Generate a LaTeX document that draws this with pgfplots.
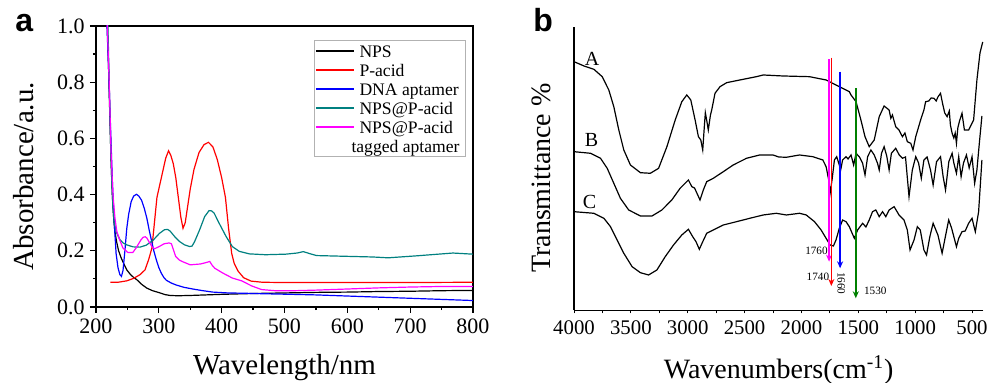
\documentclass[border=0pt]{standalone}
\usepackage{fontspec}
\setmainfont{Liberation Serif}
\newfontfamily\sansf{Liberation Sans}
\usepackage{pgfplots}
\pgfplotsset{compat=1.18}
\usetikzlibrary{arrows.meta}
\pgfplotsset{/pgf/number format/assume math mode=true}
\definecolor{tealc}{RGB}{0,128,128}
\definecolor{greenc}{RGB}{0,128,0}
\definecolor{magc}{RGB}{255,0,255}
\definecolor{redc}{RGB}{255,0,0}
\definecolor{bluec}{RGB}{0,0,255}
\newcommand\ls{\rule[-2.5pt]{0pt}{10.5pt}}
\newcommand\lsl{\rule[-1.8pt]{0pt}{9.8pt}}
\begin{document}
\begin{tikzpicture}
\useasboundingbox (0,0) rectangle (495.5pt,191.5pt);
\node[anchor=base west,inner sep=0pt] at (7.5pt,175.5pt) {\fontsize{16}{16}\selectfont\sansf\bfseries a};
\node[anchor=base west,inner sep=0pt] at (266.5pt,175.5pt) {\fontsize{16}{16}\selectfont\sansf\bfseries b};
% ---------------- panel a
\begin{axis}[
  at={(48pt,38pt)}, anchor=south west,
  scale only axis, width=188.5pt, height=140.5pt,
  xmin=200, xmax=800, ymin=0, ymax=1.0,
  xtick={200,300,...,800}, ytick={0,0.2,...,1.0},
  minor tick num=1,
  xtick pos=left, ytick pos=left, tick align=outside,
  major tick length=3pt, minor tick length=1.6pt,
  axis line style={line width=0.7pt},
  every tick/.style={black,line width=0.6pt},
  ticklabel style={font=\fontsize{11}{12}\selectfont, inner sep=2.5pt},
  yticklabel style={/pgf/number format/fixed,/pgf/number format/fixed zerofill,/pgf/number format/precision=1},
  xlabel={Wavelength/nm}, ylabel={Absorbance/a.u.},
  xlabel style={at={(axis description cs:0.5,-0.242)}, anchor=base, inner sep=0pt, font=\fontsize{14.5}{16}\selectfont},
  ylabel style={at={(axis description cs:-0.1655,0.465)}, anchor=base, inner sep=0pt, font=\fontsize{14.5}{16}\selectfont},
  legend cell align=left,
  legend image code/.code={\draw[#1,line width=0.6pt] (0pt,0pt) -- (19pt,0pt);},
  legend style={at={(0.578,0.950)}, anchor=north west, draw=gray!60, line width=0.4pt, fill=white,
    inner xsep=0.5pt, inner ysep=0.5pt, row sep=0pt,
    font=\fontsize{8.8}{10.5}\selectfont,
    nodes={inner xsep=2.5pt, inner ysep=0pt}},
  every axis plot/.append style={line width=0.6pt},
]
\addplot[black] coordinates {
(216,1.10)(218,1.0)(220,0.85)(222,0.68)(224,0.52)(226,0.40)(228,0.32)(230,0.27)(233,0.23)(236,0.20)
(240,0.175)(245,0.15)(249,0.132)(255,0.115)(260,0.105)(265,0.097)(273,0.08)(281,0.067)(290,0.058)
(302,0.05)(310,0.044)(318,0.041)(330,0.040)(350,0.041)(400,0.045)(450,0.048)(500,0.050)(550,0.052)
(600,0.053)(650,0.055)(700,0.056)(750,0.058)(800,0.059)};
\addlegendentry{\ls NPS}
\addplot[redc] coordinates {
(223,0.088)(235,0.088)(249,0.093)(260,0.102)(270,0.115)(278,0.132)(284,0.17)(289,0.21)(293,0.30)
(297,0.39)(301,0.43)(306,0.48)(311,0.53)(315.5,0.556)(319,0.54)(323,0.51)(327,0.46)(331,0.39)
(335,0.32)(338.5,0.28)(342,0.30)(346,0.36)(350,0.42)(356,0.49)(364,0.55)(372,0.578)(379,0.586)
(386,0.57)(393,0.525)(400,0.46)(406,0.39)(411,0.28)(416,0.19)(420,0.155)(426,0.128)(435,0.104)
(447,0.092)(465,0.088)(500,0.087)(600,0.087)(700,0.087)(800,0.088)};
\addlegendentry{\ls P-acid}
\addplot[bluec] coordinates {
(215,1.10)(217.5,1.00)(220,0.85)(223,0.65)(226,0.45)(229,0.30)(232,0.19)(235,0.14)(238,0.115)
(240.5,0.109)(243,0.13)(246,0.2)(249,0.28)(252,0.33)(256,0.375)(260,0.395)(264.5,0.401)(268,0.395)
(272.5,0.38)(277,0.35)(281,0.315)(285,0.27)(288.5,0.235)(292,0.2)(296,0.168)(300,0.14)(304,0.12)
(308,0.105)(312,0.095)(320,0.085)(328,0.078)(340,0.07)(354,0.064)(370,0.058)(386,0.053)(410,0.05)
(433,0.049)(470,0.047)(512,0.045)(550,0.043)(600,0.039)(650,0.035)(700,0.031)(750,0.027)(800,0.023)};
\addlegendentry{\ls DNA aptamer}
\addplot[tealc] coordinates {
(216,1.10)(219,1.0)(221,0.80)(223,0.60)(225,0.45)(227,0.35)(229,0.30)(233,0.263)(238,0.24)(243,0.228)
(249,0.221)(259,0.214)(270,0.213)(280,0.22)(291,0.238)(301,0.262)(309,0.275)(314,0.276)(318,0.27)
(325,0.251)(333,0.233)(341,0.221)(349,0.215)(353,0.217)(357,0.233)(365,0.275)(373,0.322)(380,0.343)
(384,0.342)(388,0.334)(396,0.298)(407,0.251)(417,0.215)(428,0.198)(444,0.189)(470,0.186)(502,0.188)
(520,0.192)(530,0.197)(540,0.19)(551,0.183)(604,0.18)(640,0.178)(665,0.175)(710,0.182)(768,0.192)(800,0.188)};
\addlegendentry{\ls NPS@P-acid}
\addplot[magc] coordinates {
(215,1.10)(218,1.0)(221,0.80)(224,0.55)(227,0.40)(230,0.32)(233,0.27)(237.5,0.24)(242.8,0.21)
(250.7,0.194)(258.6,0.194)(263.8,0.21)(271.6,0.239)(275,0.248)(278.4,0.25)(281,0.245)(285,0.23)
(289,0.215)(293,0.207)(300.5,0.215)(308.4,0.225)(316.4,0.228)(320,0.225)(323,0.205)(326.8,0.18)
(332,0.168)(337,0.162)(350,0.15)(366,0.153)(375,0.158)(381,0.162)(385,0.148)(389,0.138)(401.6,0.121)
(417,0.103)(432,0.093)(447.7,0.075)(463.5,0.062)(484.7,0.058)(516,0.058)(550,0.06)(600,0.064)
(650,0.068)(700,0.071)(750,0.073)(800,0.073)};
\addlegendentry{\ls NPS@P-acid}
\addlegendimage{empty legend}
\addlegendentry{\hspace*{-4pt}\lsl tagged aptamer}
\end{axis}
% ---------------- panel b
\begin{axis}[
  at={(287pt,36.25pt)}, anchor=south west,
  scale only axis, width=204.7pt, height=141.75pt,
  x dir=reverse, xmin=400, xmax=4000, ymin=72.5, ymax=356,
  xtick={500,1000,...,4000}, ytick=\empty, minor x tick num=1,
  axis x line*=bottom, axis y line*=left,
  tick align=outside, major tick length=1.5pt, minor tick length=1.5pt,
  axis line style={line width=0.6pt},
  every tick/.style={black,line width=0.5pt},
  xticklabel style={font=\fontsize{10.4}{12}\selectfont, /pgf/number format/1000 sep={}},
  xlabel={Wavenumbers(cm\textsuperscript{-1})}, ylabel={Transmittance \%},
  xlabel style={at={(axis description cs:0.5,-0.241)}, anchor=base, inner sep=0pt, font=\fontsize{14}{16}\selectfont},
  ylabel style={at={(axis description cs:-0.057,0.467)}, anchor=base, inner sep=0pt, font=\fontsize{14}{16}\selectfont},
  every axis plot/.append style={line width=0.6pt},
]
\addplot[black] coordinates {
(4000,321.3)(3912,317)(3825,313.7)(3752,306.3)(3694,293)(3650,276.3)(3606,253)(3562,233)(3504,218)
(3416,210.3)(3329,209.7)(3256,214.7)(3183,236.3)(3110,263)(3052,281.3)(3008,288)(2973,283)(2935,263)
(2906,246.3)(2885,243)(2868,233)(2854,256.3)(2845,270.3)(2832,262)(2819,253)(2800,268)(2789,273)
(2760,289.7)(2716,296.3)(2658,300.3)(2542,303)(2396,306.3)(2337,308)(2162,307)(1929,306.3)(1783,303)
(1667,296.3)(1579,291.3)(1564,288)(1520,281.3)(1477,263)(1441,246.3)(1404,236.3)(1360,243)(1316,266.3)
(1273,277)(1240,274)(1229,273)(1214,264.7)(1200,268)(1171,256.3)(1142,253)(1125,249)(1112,246.3)
(1090,250)(1069,241.3)(1039,239.7)(1019,233)(995,246.3)(952,263)(923,273)(908,281.3)(880,282)(860,285)
(835,284.7)(815,282)(800,286)(777,289.7)(760,280)(740,270)(719,266.3)(700,272)(690,258)(675,249.7)
(660,245)(648,250)(637,239.7)(625,255)(610,262)(588,269.7)(567,253)(530,253)(486,263)(457,303)
(430,330)(406,341)};
\addplot[black] coordinates {
(4000,231.3)(3854,229.7)(3767,224.7)(3708,214.7)(3650,199.7)(3592,184.7)(3519,173)(3416,167)(3314,167)
(3227,173)(3140,183)(3067,194.7)(2994,203)(2964,196.3)(2940,195)(2892,183)(2863,193)(2833,201.3)
(2775,204.7)(2687,211.3)(2600,218)(2483,224.7)(2367,228)(2250,228)(2200,226)(2133,225.7)(2017,228)
(1900,226.3)(1812,223)(1783,216.3)(1760,203)(1748,189.7)(1731,203)(1710,223)(1690,226.3)(1667,218)
(1655,213)(1638,223)(1608,226.3)(1590,224)(1564,228)(1541,218)(1520,229.7)(1490,226)(1462,219.7)
(1441,208)(1418,226.3)(1389,233)(1360,228)(1331,219.7)(1316,213)(1296,229.7)(1273,236.3)(1250,227)
(1229,213)(1209,229.7)(1171,234.7)(1140,228)(1112,224.7)(1085,226)(1054,186.3)(1025,213)(995,226.3)
(970,220)(946,204.7)(923,223)(895,226)(865,213)(842,198)(812,221.3)(777,226.3)(754,206.3)(733,193)
(704,221.3)(675,229.7)(660,220)(637,209.7)(617,226.3)(596,206.3)(575,220)(549,228)(525,215)(500,226.3)
(477,199.7)(457,213)(433,243)(413,267)};
\addplot[black] coordinates {
(4000,171.3)(3825,169.7)(3737,164.7)(3679,156.3)(3621,143)(3562,129.7)(3489,116.3)(3416,110.3)
(3344,108)(3271,113)(3198,126.3)(3125,138)(3052,148)(2994,153.7)(2956,146.3)(2927,141.3)(2898,133.7)
(2868,141.3)(2833,149.7)(2775,153)(2687,158)(2571,161.3)(2454,164.7)(2337,168)(2221,169.7)(2133,168)
(2017,169.7)(1958,168)(1885,161.3)(1827,153)(1783,144.7)(1748,138)(1719,137)(1696,143)(1667,154.7)
(1638,163)(1608,161.3)(1579,156.3)(1535,144.7)(1506,153)(1462,159.7)(1433,156)(1404,163)(1375,171.3)
(1346,173)(1316,166.3)(1287,171.3)(1258,166.3)(1229,173)(1185,176.3)(1142,168)(1098,163)(1069,153)
(1045,133)(1010,143)(981,156.3)(955,153)(923,133)(900,128)(871,146.3)(842,159.7)(800,148)(763,129.7)
(735,146)(705,163)(680,155)(637,136.3)(617,144.7)(588,151.3)(560,152)(530,159.7)(500,164.7)(471,151.3)
(442,171.3)(413,223)};
\addplot[magc, line width=0.7pt, -{Stealth[length=3.5pt,width=3pt]}] coordinates {(1757,323.7)(1757,121.3)};
\addplot[redc, line width=0.8pt, -{Stealth[length=3.5pt,width=3pt]}] coordinates {(1737,325.3)(1737,97)};
\addplot[bluec, line width=0.7pt, -{Stealth[length=3.5pt,width=3pt]}] coordinates {(1660,311.3)(1660,114.7)};
\addplot[greenc, line width=0.7pt, -{Stealth[length=3.5pt,width=3pt]}] coordinates {(1522,294.7)(1522,84.7)};
\node[font=\fontsize{10}{11}\selectfont, inner sep=0pt] at (axis cs:3841,324.5) {A};
\node[font=\fontsize{10}{11}\selectfont, inner sep=0pt] at (axis cs:3845,243) {B};
\node[font=\fontsize{10}{11}\selectfont, inner sep=0pt] at (axis cs:3863,181.3) {C};
\node[font=\fontsize{5.6}{6}\selectfont, inner sep=0pt] at (axis cs:1868,132.3) {1760};
\node[font=\fontsize{5.6}{6}\selectfont, inner sep=0pt] at (axis cs:1855,105.7) {1740};
\node[font=\fontsize{5.6}{6}\selectfont, inner sep=0pt, rotate=-90] at (axis cs:1650,99.7) {1660};
\node[font=\fontsize{5.6}{6}\selectfont, inner sep=0pt] at (axis cs:1351,92) {1530};
\end{axis}
\end{tikzpicture}
\end{document}
